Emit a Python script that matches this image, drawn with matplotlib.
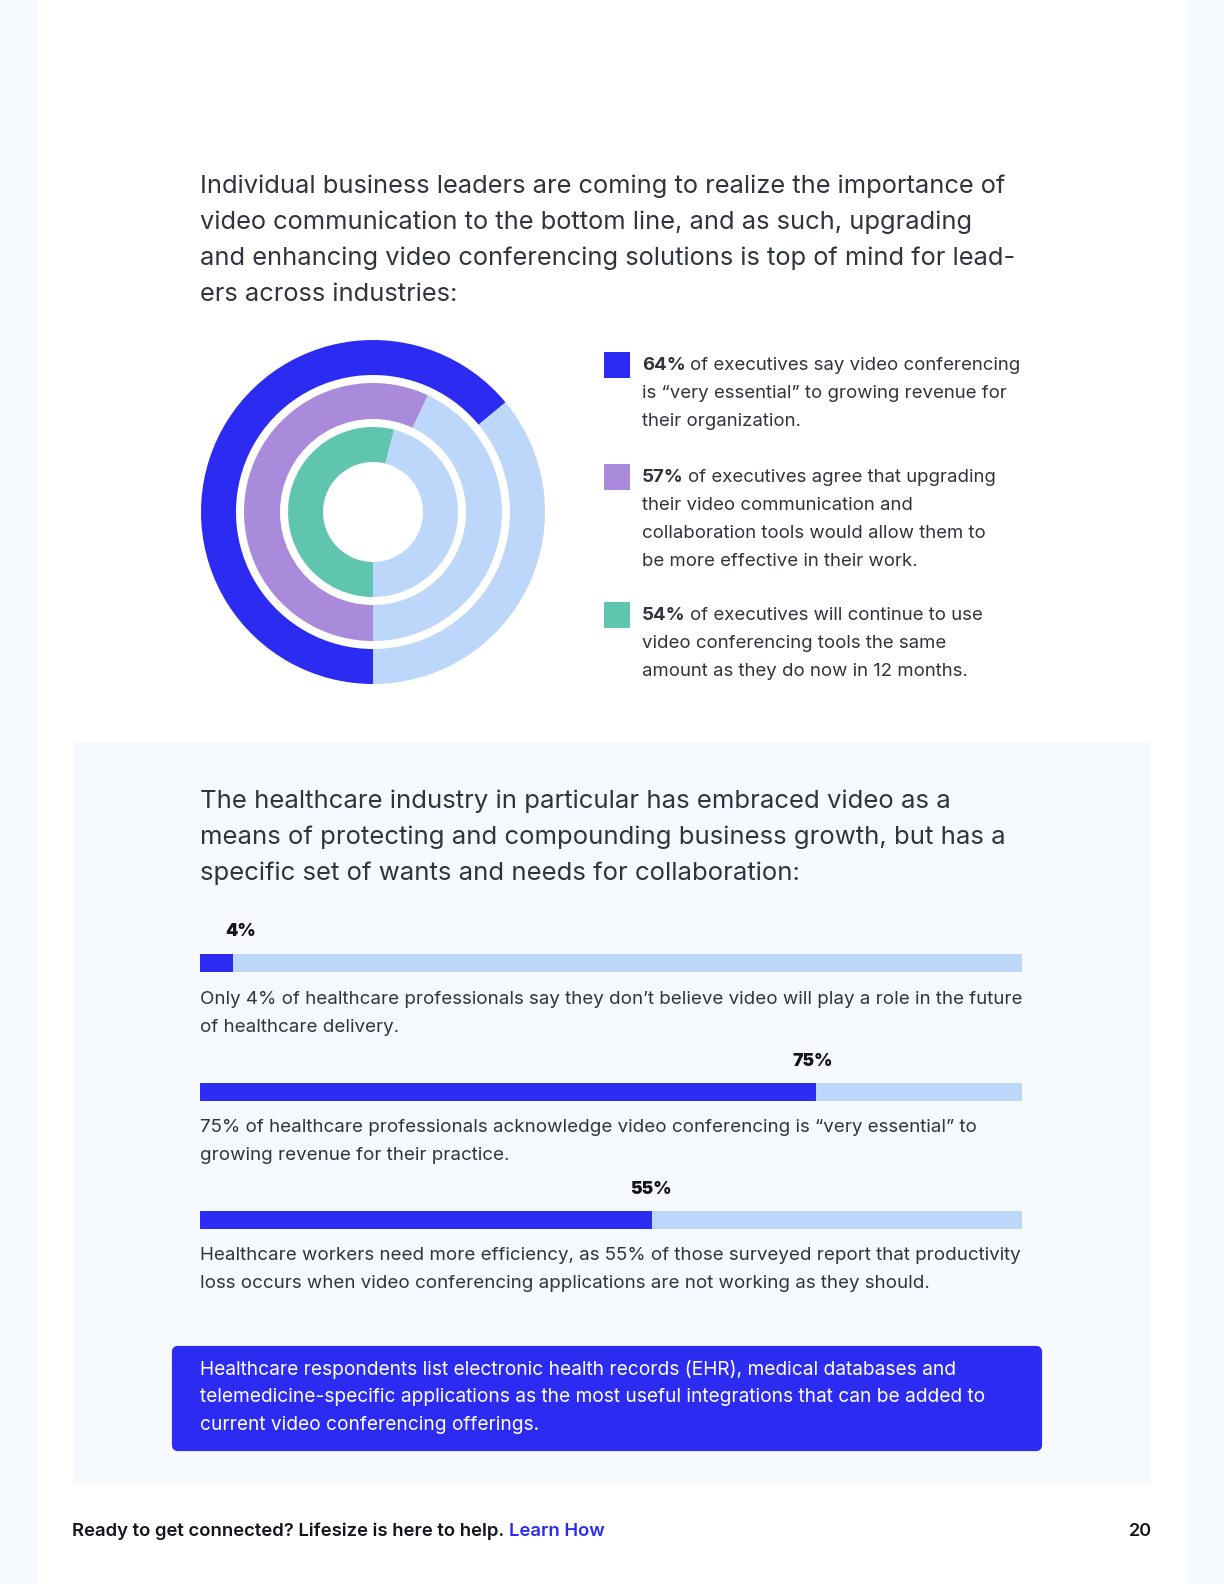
import matplotlib
matplotlib.use("Agg")
import matplotlib.pyplot as plt
from matplotlib.patches import Rectangle, FancyBboxPatch

# Colores
BLUE = "#2B2BF2"
LIGHT = "#BDD7FB"
PURPLE = "#A98ADB"
GREEN = "#5FC5AE"
PANEL = "#F6F9FE"
TEXT = "#31343E"
DARK = "#14141C"

# Datos
ring_values = [64, 57, 54]
ring_colors = [BLUE, PURPLE, GREEN]
bar_values = [4, 75, 55]
bar_labels = ["4%", "75%", "55%"]

intro_lines = [
    "Individual business leaders are coming to realize the importance of",
    "video communication to the bottom line, and as such, upgrading",
    "and enhancing video conferencing solutions is top of mind for lead-",
    "ers across industries:",
]
legend_bold = ["64%", "57%", "54%"]
legend_lines = [
    ["of executives say video conferencing", "is “very essential” to growing revenue for", "their organization."],
    ["of executives agree that upgrading", "their video communication and",
     "collaboration tools would allow them to", "be more effective in their work."],
    ["of executives will continue to use", "video conferencing tools the same",
     "amount as they do now in 12 months."],
]
health_lines = [
    "The healthcare industry in particular has embraced video as a",
    "means of protecting and compounding business growth, but has a",
    "specific set of wants and needs for collaboration:",
]
bar_texts = [
    ["Only 4% of healthcare professionals say they don’t believe video will play a role in the future",
     "of healthcare delivery."],
    ["75% of healthcare professionals acknowledge video conferencing is “very essential” to",
     "growing revenue for their practice."],
    ["Healthcare workers need more efficiency, as 55% of those surveyed report that productivity",
     "loss occurs when video conferencing applications are not working as they should."],
]
callout_lines = [
    "Healthcare respondents list electronic health records (EHR), medical databases and",
    "telemedicine-specific applications as the most useful integrations that can be added to",
    "current video conferencing offerings.",
]

W, H = 1224, 1584
plt.rcParams["font.family"] = ["Inter", "DejaVu Sans"]

fig = plt.figure(figsize=(W / 100, H / 100), dpi=100, facecolor="white")

# Lienzo en pixeles
bg = fig.add_axes([0, 0, 1, 1])
bg.set_xlim(0, W)
bg.set_ylim(H, 0)
bg.axis("off")


def box(x0, y0, x1, y1, color):
    bg.add_patch(Rectangle((x0, y0), x1 - x0, y1 - y0, facecolor=color, edgecolor="none"))


def axes_px(x0, y0, x1, y1):
    return fig.add_axes([x0 / W, 1 - y1 / H, (x1 - x0) / W, (y1 - y0) / H])


def write(x, y, s, size, color=TEXT, weight="normal"):
    return bg.text(x, y, s, fontsize=size, color=color, fontweight=weight, va="center", ha="left")


def right_of(t):
    ext = t.get_window_extent(fig.canvas.get_renderer())
    return ext.x1 * W / fig.bbox.width


# Fondo de pagina
box(0, 0, 37, H, PANEL)
box(1188, 0, W, H, PANEL)
box(73, 741, 1151, 1484, PANEL)

# Parrafos
for n, line in enumerate(intro_lines):
    write(200, 186.5 + n * 36, line, 18.35)
for n, line in enumerate(health_lines):
    write(200, 801 + n * 36, line, 18.5)

# Anillos
ax = axes_px(201, 340, 545, 684)
outer = [172, 129, 85]
inner = [137, 93, 50]
for val, col, r0, r1 in zip(ring_values, ring_colors, outer, inner):
    ax.pie([val, 100 - val], colors=[col, LIGHT], startangle=-90, counterclock=False,
           radius=r0 / 172, wedgeprops=dict(width=(r0 - r1) / 172, linewidth=0))
ax.set_xlim(-1, 1)
ax.set_ylim(-1, 1)

# Leyenda
legend_y = [365.5, 477.5, 616]
for y0, col, head, lines in zip(legend_y, ring_colors, legend_bold, legend_lines):
    box(604, round(y0) - 14, 630, round(y0) + 12, col)
    for n, line in enumerate(lines):
        y = y0 + n * 28
        if n == 0:
            t = write(642, y, head, 13.4, weight="bold")
            write(right_of(t) + 4, y, line, 13.4)
        else:
            write(642, y, line, 13.4)

# Barras de progreso
bar_tops = [954, 1083, 1211]
text_tops = [999, 1127, 1256]
label_pos = [(240.5, 932), (813, 1062), (650.5, 1190)]
for val, label, top, ty, pos, lines in zip(bar_values, bar_labels, bar_tops, text_tops, label_pos, bar_texts):
    a = axes_px(200, top, 1022, top + 18)
    a.barh([0], [100], height=1, color=LIGHT)
    a.barh([0], [val], height=1, color=BLUE)
    a.set_xlim(0, 100)
    a.set_ylim(-0.5, 0.5)
    a.axis("off")
    bg.text(pos[0], pos[1], label, fontsize=12.6, color=DARK, fontweight=900, ha="center", va="center")
    for n, line in enumerate(lines):
        write(200, ty + n * 28, line, 13.5)

# Recuadro azul
bg.add_patch(FancyBboxPatch((174, 1348), 866, 101, boxstyle="round,pad=0,rounding_size=4",
                            facecolor=BLUE, edgecolor=BLUE, linewidth=3))
for n, line in enumerate(callout_lines):
    write(200, 1369.5 + n * 28, line, 13.8, color="white")

# Pie de pagina
t = write(72, 1531, "Ready to get connected? Lifesize is here to help.", 13.35, color=DARK, weight="semibold")
write(right_of(t) + 5, 1531, "Learn How", 13.3, color=BLUE, weight="semibold")
bg.text(1152, 1531, "20", fontsize=13, color=DARK, fontweight="semibold", ha="right", va="center")

fig.savefig("out.png", dpi=100, facecolor="white")
